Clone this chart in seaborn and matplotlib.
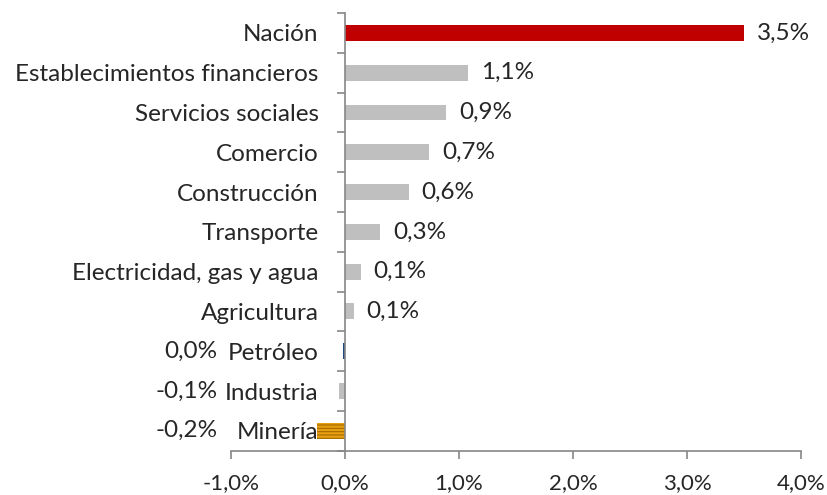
import matplotlib
matplotlib.use('Agg')
import matplotlib.pyplot as plt
import seaborn as sb
import pandas as pd

# Datos: variación por sector
sectores = ['Nación', 'Establecimientos financieros', 'Servicios sociales',
            'Comercio', 'Construcción', 'Transporte', 'Electricidad, gas y agua',
            'Agricultura', 'Petróleo', 'Industria', 'Minería']
valores = [3.50, 1.08, 0.89, 0.74, 0.56, 0.31, 0.14, 0.08, -0.02, -0.05, -0.25]
etiquetas = ['3,5%', '1,1%', '0,9%', '0,7%', '0,6%', '0,3%', '0,1%', '0,1%',
             '0,0%', '-0,1%', '-0,2%']
colores = ['#C00000'] + ['#BFBFBF'] * 7 + ['#1F497D', '#BFBFBF', '#E8A013']
xticks = [-1, 0, 1, 2, 3, 4]
xtick_labels = ['-1,0%', '0,0%', '1,0%', '2,0%', '3,0%', '4,0%']

df = pd.DataFrame({'sector': sectores, 'valor': valores})

sb.set_style('white')
plt.rcParams['font.family'] = ['Lato', 'DejaVu Sans']
plt.rcParams['hatch.linewidth'] = 0.8
fs = 17.5

fig = plt.figure(figsize=(8.28, 4.95), dpi=100)
ax = fig.add_axes([0.279, 0.0895, 0.6884, 0.8842])

sb.barplot(data=df, x='valor', y='sector', hue='sector', palette=colores,
           legend=False, width=0.4, orient='h', ax=ax, linewidth=0,
           saturation=1)

# Minería con rayado horizontal
bar_min = ax.patches[-1]
bar_min.set_hatch('-----')
bar_min.set_edgecolor('#A56A00')

ax.set_xlim(-1, 4)
ax.set_ylim(10.5, -0.5)
ax.set_xlabel('')
ax.set_ylabel('')

gris = '#868686'
for s in ['top', 'right']:
    ax.spines[s].set_visible(False)
ax.spines['left'].set_position(('data', 0))
for s in ['left', 'bottom']:
    ax.spines[s].set_color(gris)
    ax.spines[s].set_linewidth(1.2)

ax.set_xticks(xticks)
ax.set_xticklabels(xtick_labels, fontsize=16)
ax.tick_params(axis='x', bottom=True, direction='out', length=6, color=gris,
               width=1.2, pad=10)

ax.set_yticks(range(len(sectores)))
ax.set_yticklabels(sectores, fontsize=fs)
ax.set_yticks([i - 0.5 for i in range(len(sectores) + 1)], minor=True)
ax.tick_params(axis='y', which='major', length=0, pad=19)
ax.tick_params(axis='y', which='minor', left=True, length=6, color=gris,
               width=1.2, direction='out')

for i, (v, lab) in enumerate(zip(valores, etiquetas)):
    if i < 8:
        ax.annotate(lab, (v, i), xytext=(9, 0), textcoords='offset points',
                    ha='left', va='center', fontsize=fs)
    else:
        ax.annotate(lab, (0, i), xytext=(-92, 0), textcoords='offset points',
                    ha='right', va='center', fontsize=fs,
                    annotation_clip=False)

fig.savefig('out.png', dpi=100)
